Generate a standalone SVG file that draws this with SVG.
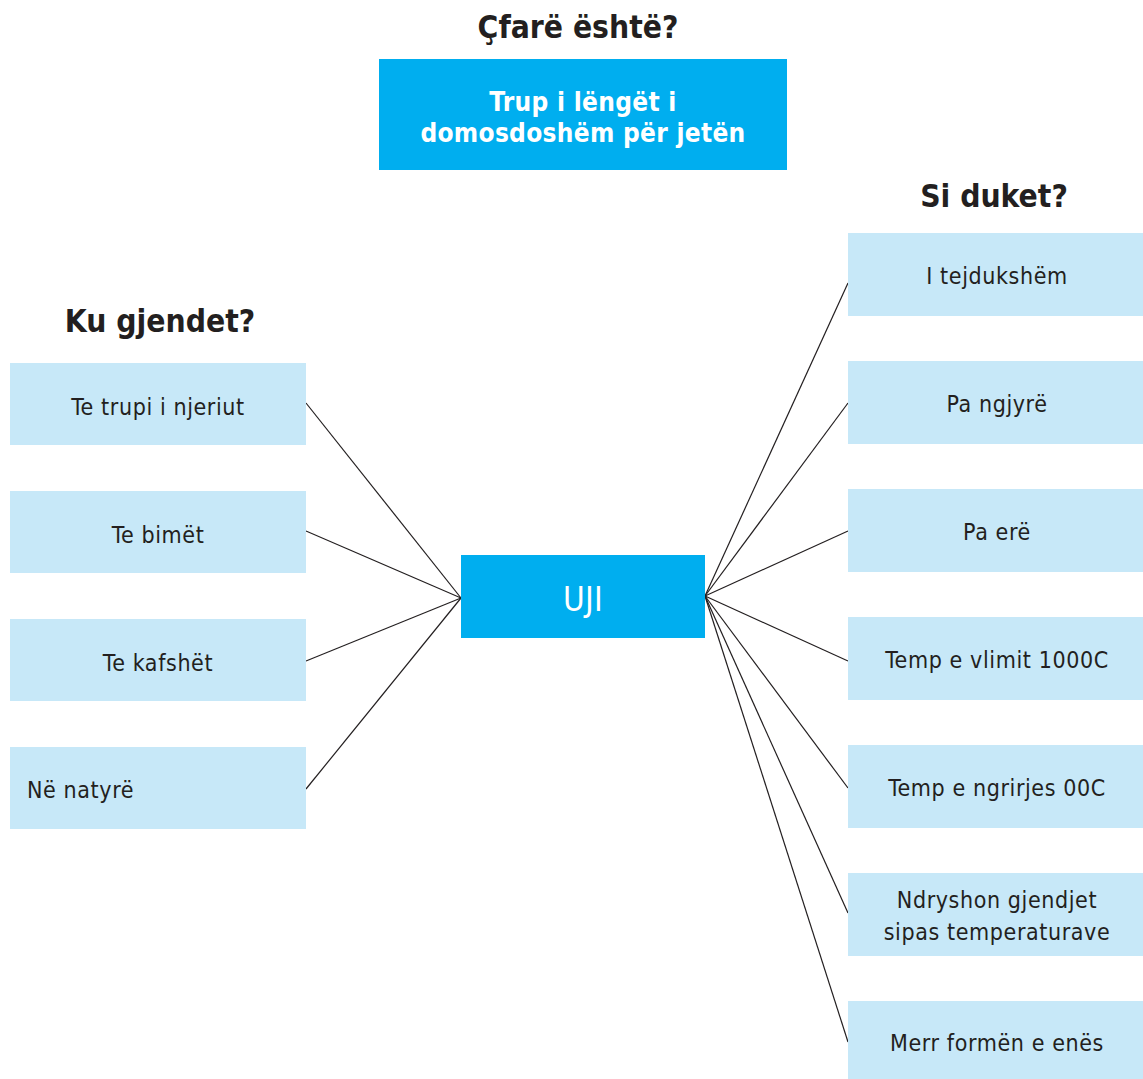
<svg xmlns="http://www.w3.org/2000/svg" width="1143" height="1079" viewBox="0 0 1143 1079">
<style>
.h{font-family:"DejaVu Sans Condensed","DejaVu Sans",sans-serif;font-weight:bold;font-size:31.5px;fill:#231f20;text-anchor:middle}
.dark{fill:#00aeef}
.light{fill:#c7e8f8}
.wt{font-family:"DejaVu Sans Condensed","DejaVu Sans",sans-serif;font-weight:bold;font-size:26px;fill:#fff;text-anchor:middle;letter-spacing:0.3px}
.t{font-family:"DejaVu Sans Condensed","DejaVu Sans",sans-serif;font-size:23px;fill:#231f20;text-anchor:middle;letter-spacing:0.6px}
.c line{stroke:#231f20;stroke-width:1.2}
</style>
<rect width="1143" height="1079" fill="#fff"/>
<text class="h" x="578" y="38">Çfarë është?</text>
<text class="h" x="160" y="332">Ku gjendet?</text>
<text class="h" x="994" y="207">Si duket?</text>
<g class="c">
<line x1="306" y1="403" x2="461" y2="598"/>
<line x1="306" y1="531" x2="461" y2="598"/>
<line x1="306" y1="661" x2="461" y2="598"/>
<line x1="306" y1="789" x2="461" y2="598"/>
<line x1="705" y1="596" x2="848" y2="283"/>
<line x1="705" y1="596" x2="848" y2="403"/>
<line x1="705" y1="596" x2="848" y2="531"/>
<line x1="705" y1="596" x2="848" y2="661"/>
<line x1="705" y1="596" x2="848" y2="788"/>
<line x1="705" y1="596" x2="848" y2="913"/>
<line x1="705" y1="596" x2="848" y2="1042"/>
</g>
<g id="what"><rect class="dark" x="379" y="59" width="408" height="111"/><text class="wt" x="583" y="111">Trup i lëngët i</text><text class="wt" x="583" y="142">domosdoshëm për jetën</text></g>
<g id="uji"><rect class="dark" x="461" y="555" width="244" height="83"/><text class="wt" x="583" y="611" style="font-size:33px;font-weight:normal">UJI</text></g>
<g id="l1"><rect class="light" x="10" y="363" width="296" height="82"/><text class="t" x="158" y="415">Te trupi i njeriut</text></g>
<g id="l2"><rect class="light" x="10" y="491" width="296" height="82"/><text class="t" x="158" y="543">Te bimët</text></g>
<g id="l3"><rect class="light" x="10" y="619" width="296" height="82"/><text class="t" x="158" y="671">Te kafshët</text></g>
<g id="l4"><rect class="light" x="10" y="747" width="296" height="82"/><text class="t" x="27" y="798" style="text-anchor:start">Në natyrë</text></g>
<g id="r1"><rect class="light" x="848" y="233" width="295" height="83"/><text class="t" x="997" y="284">I tejdukshëm</text></g>
<g id="r2"><rect class="light" x="848" y="361" width="295" height="83"/><text class="t" x="997" y="412">Pa ngjyrë</text></g>
<g id="r3"><rect class="light" x="848" y="489" width="295" height="83"/><text class="t" x="997" y="540">Pa erë</text></g>
<g id="r4"><rect class="light" x="848" y="617" width="295" height="83"/><text class="t" x="997" y="668">Temp e vlimit 1000C</text></g>
<g id="r5"><rect class="light" x="848" y="745" width="295" height="83"/><text class="t" x="997" y="796">Temp e ngrirjes 00C</text></g>
<g id="r6"><rect class="light" x="848" y="873" width="295" height="83"/><text class="t" x="997" y="908">Ndryshon gjendjet</text><text class="t" x="997" y="940">sipas temperaturave</text></g>
<g id="r7"><rect class="light" x="848" y="1001" width="295" height="78"/><text class="t" x="997" y="1051">Merr formën e enës</text></g>
</svg>
